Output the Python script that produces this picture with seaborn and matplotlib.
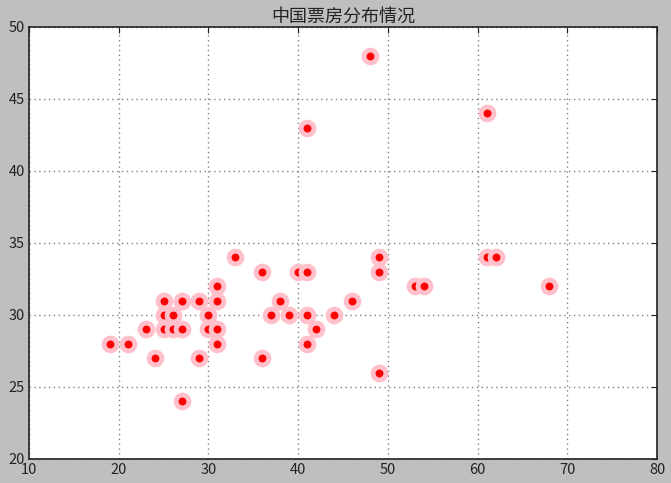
import matplotlib
matplotlib.use("Agg")
import matplotlib.pyplot as plt
import seaborn as sns
import pandas as pd

x_vals = [19, 21, 23, 24, 25, 25, 25, 26, 26, 27, 27, 27, 29, 29, 30, 30,
          31, 31, 31, 31, 33, 36, 36, 37, 38, 39, 40, 41, 41, 41, 41, 42,
          44, 46, 48, 49, 49, 49, 53, 54, 61, 61, 62, 68]
y_vals = [28, 28, 29, 27, 31, 30, 29, 30, 29, 31, 29, 24, 31, 27, 30, 29,
          32, 31, 29, 28, 34, 33, 27, 30, 31, 30, 33, 33, 30, 28, 43, 29,
          30, 31, 48, 34, 33, 26, 32, 32, 44, 34, 34, 32]
title_text = "中国票房分布情况"

df = pd.DataFrame({"x": x_vals, "y": y_vals})

sns.set_theme(style="white")
plt.rcParams['font.family'] = ['Noto Sans CJK SC', 'DejaVu Sans']

fig = plt.figure(figsize=(6.71, 4.83), dpi=100, facecolor="#bfbfbf")
ax = fig.add_axes([29/671, 24/483, 628/671, 432/483])
ax.set_facecolor("white")

sns.scatterplot(data=df, x="x", y="y", ax=ax, color="red", s=85,
                edgecolor="#ffc0cb", linewidth=3.5, zorder=3)

ax.set_xlim(10, 80)
ax.set_ylim(20, 50)
ax.set_xticks(range(10, 81, 10))
ax.set_yticks(range(20, 51, 5))
ax.set_xlabel("")
ax.set_ylabel("")
ax.grid(True, linestyle=(0, (1, 2.5)), color="#808080", linewidth=1.0)
ax.set_axisbelow(True)
for s in ax.spines.values():
    s.set_color("#222222")
    s.set_linewidth(1.2)
ax.tick_params(direction="in", length=4, width=0.8, colors="#222222",
               labelsize=10.5, top=True, right=True, pad=3)
ax.set_title(title_text, fontsize=13, color="#222222", pad=4)

fig.savefig("out.png", dpi=100, facecolor=fig.get_facecolor())
